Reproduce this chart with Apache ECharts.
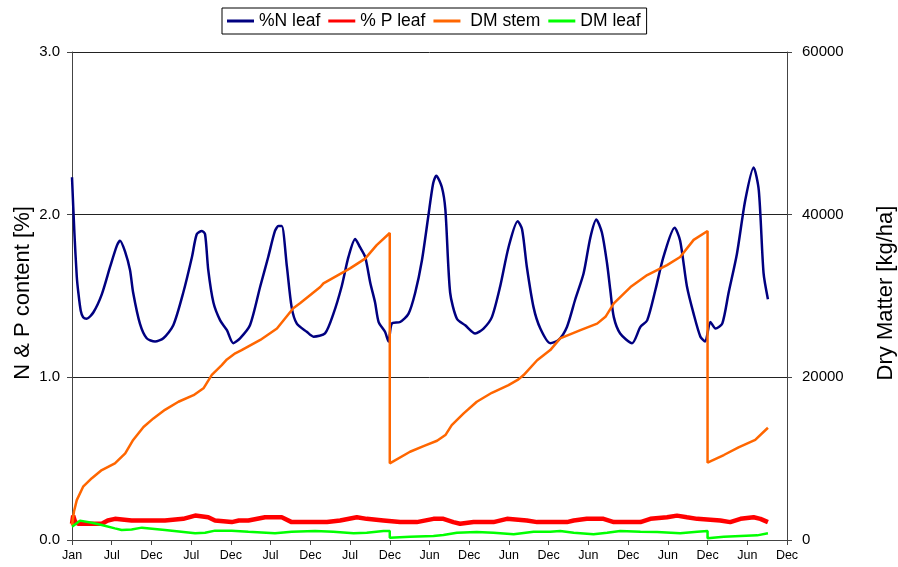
<!DOCTYPE html>
<html><head><meta charset="utf-8">
<script src="https://cdn.jsdelivr.net/npm/echarts@6/dist/echarts.min.js"></script>
<style>html,body{margin:0;padding:0;background:#fff}#c{width:898px;height:567px}</style>
</head><body><div id="c"></div>
<script>
// x positions are in tick-interval units (0 = Jan, 18 = last Dec)
const xTickLabels = ['Jan','Jul','Dec','Jul','Dec','Jul','Dec','Jul','Dec','Jun','Dec','Jun','Dec','Jun','Dec','Jun','Dec','Jun','Dec'];
const leftTicks = [0, 1, 2, 3];
const rightTicks = [0, 20000, 40000, 60000];

const nLeaf = [[0,2.23],[0.06,1.89],[0.12,1.62],[0.16,1.52],[0.22,1.41],[0.28,1.37],[0.37,1.36],[0.54,1.40],[0.75,1.51],[0.96,1.68],[1.13,1.81],[1.21,1.84],[1.34,1.77],[1.46,1.66],[1.54,1.52],[1.71,1.33],[1.88,1.24],[2.09,1.22],[2.30,1.24],[2.55,1.32],[2.80,1.52],[3.02,1.74],[3.14,1.88],[3.27,1.90],[3.35,1.88],[3.43,1.66],[3.56,1.46],[3.73,1.35],[3.90,1.29],[4.06,1.21],[4.23,1.24],[4.48,1.32],[4.74,1.56],[4.94,1.74],[5.11,1.90],[5.20,1.93],[5.28,1.93],[5.41,1.68],[5.53,1.43],[5.66,1.33],[5.91,1.28],[6.08,1.25],[6.37,1.27],[6.58,1.39],[6.79,1.56],[6.96,1.74],[7.13,1.85],[7.25,1.80],[7.38,1.74],[7.51,1.58],[7.63,1.46],[7.72,1.34],[7.88,1.28],[7.97,1.22],[8.05,1.33],[8.26,1.34],[8.47,1.39],[8.64,1.52],[8.81,1.72],[8.97,1.99],[9.09,2.19],[9.17,2.24],[9.31,2.17],[9.40,2.03],[9.52,1.52],[9.69,1.36],[9.90,1.32],[10.15,1.27],[10.36,1.30],[10.57,1.37],[10.78,1.56],[10.99,1.80],[11.22,1.96],[11.33,1.91],[11.45,1.68],[11.62,1.43],[11.79,1.30],[12.04,1.21],[12.25,1.23],[12.46,1.31],[12.67,1.48],[12.88,1.64],[13.05,1.86],[13.20,1.97],[13.34,1.89],[13.47,1.70],[13.55,1.54],[13.64,1.37],[13.80,1.27],[14.10,1.21],[14.31,1.31],[14.48,1.35],[14.69,1.54],[14.89,1.74],[15.17,1.92],[15.31,1.84],[15.48,1.56],[15.65,1.39],[15.82,1.25],[15.94,1.22],[16.07,1.34],[16.20,1.30],[16.37,1.33],[16.53,1.52],[16.74,1.76],[16.95,2.09],[17.16,2.29],[17.29,2.15],[17.41,1.64],[17.52,1.48]];

const pLeaf = [[0,0.10],[0.03,0.15],[0.08,0.11],[0.16,0.10],[0.75,0.10],[0.9,0.12],[1.08,0.13],[1.5,0.12],[2.34,0.12],[2.8,0.13],[3.10,0.15],[3.43,0.14],[3.60,0.12],[4.02,0.11],[4.2,0.12],[4.44,0.12],[4.86,0.14],[5.28,0.14],[5.53,0.11],[6.12,0.11],[6.42,0.11],[6.75,0.12],[7.17,0.14],[7.42,0.13],[7.84,0.12],[8.26,0.11],[8.68,0.11],[9.10,0.13],[9.35,0.13],[9.60,0.11],[9.77,0.10],[10.11,0.11],[10.61,0.11],[10.95,0.13],[11.45,0.12],[11.71,0.11],[12.04,0.11],[12.46,0.11],[12.63,0.12],[12.96,0.13],[13.38,0.13],[13.64,0.11],[14.31,0.11],[14.56,0.13],[14.98,0.14],[15.23,0.15],[15.48,0.14],[15.74,0.13],[16.07,0.125],[16.32,0.12],[16.57,0.11],[16.83,0.13],[17.16,0.14],[17.33,0.13],[17.52,0.11]];

const dmStem = [[0,1800],[0.05,3500],[0.12,4900],[0.28,6550],[0.50,7600],[0.75,8600],[1.08,9430],[1.34,10650],[1.54,12300],[1.80,13900],[2.05,14950],[2.34,16000],[2.68,17000],[3.06,17800],[3.31,18650],[3.52,20300],[3.77,21500],[3.90,22200],[4.11,22950],[4.27,23350],[4.74,24600],[5.16,26000],[5.57,28500],[5.74,29100],[6.25,31100],[6.33,31550],[7.00,33400],[7.38,34600],[7.67,36250],[8.0,37750],[8.0,9430],[8.51,10850],[8.85,11550],[9.19,12200],[9.40,12900],[9.56,14130],[9.86,15570],[10.19,17000],[10.57,18100],[10.99,19050],[11.24,19750],[11.37,20280],[11.71,22100],[12.04,23350],[12.29,24790],[12.80,25800],[13.22,26600],[13.43,27440],[13.64,29100],[14.06,31100],[14.48,32570],[14.98,33800],[15.31,34800],[15.65,36900],[16.0,38000],[16.0,9500],[16.41,10450],[16.78,11400],[17.20,12300],[17.52,13800]];

const dmLeaf = [[0,1640],[0.20,2380],[0.50,2130],[0.75,1840],[1.08,1430],[1.25,1230],[1.50,1300],[1.76,1520],[2.34,1230],[3.10,820],[3.35,880],[3.60,1150],[4.02,1150],[4.44,1020],[5.11,820],[5.53,1020],[6.12,1110],[6.58,1020],[7.09,820],[7.42,900],[7.84,1110],[8.0,1110],[8.0,290],[8.51,410],[9.10,490],[9.35,610],[9.69,900],[10.19,980],[10.61,900],[11.12,700],[11.62,1020],[12.04,1020],[12.29,1110],[12.63,900],[13.13,700],[13.47,900],[13.80,1110],[14.31,1020],[14.73,980],[15.31,820],[15.74,1020],[16.0,1110],[16.0,205],[16.41,410],[16.83,490],[17.25,570],[17.52,820]];

const FONT = "'Liberation Sans', Arial, sans-serif";
const chart = echarts.init(document.getElementById('c'), null, {renderer: 'canvas'});
const axisLineStyle = {color: '#444', width: 1};
chart.setOption({
  animation: false,
  backgroundColor: '#fff',
  textStyle: {fontFamily: FONT, color: '#000'},
  grid: {left: 72, right: 111, top: 52, bottom: 27, containLabel: false, outerBoundsMode: 'none'},
  legend: {
    left: 222, top: 8, orient: 'horizontal',
    icon: 'rect', itemWidth: 27, itemHeight: 3, itemGap: 8,
    padding: [4, 6, 4, 5],
    borderColor: '#000', borderWidth: 1, backgroundColor: '#fff',
    textStyle: {fontFamily: FONT, fontSize: 17.5, color: '#000'},
    data: ['%N leaf', '% P leaf', ' DM stem', 'DM leaf']
  },
  xAxis: {
    type: 'value', min: 0, max: xTickLabels.length - 1, interval: 1,
    axisLine: {show: true, lineStyle: axisLineStyle},
    axisTick: {show: true, inside: false, length: 5, lineStyle: axisLineStyle},
    axisLabel: {fontSize: 12.5, color: '#000', margin: 9, fontFamily: FONT,
      formatter: v => xTickLabels[Math.round(v)] || ''},
    splitLine: {show: false}
  },
  yAxis: [{
    type: 'value', min: leftTicks[0], max: leftTicks[leftTicks.length - 1], interval: 1,
    position: 'left',
    name: 'N & P content [%]', nameLocation: 'middle', nameGap: 38, nameMoveOverlap: false,
    nameTextStyle: {fontSize: 22, color: '#000', fontFamily: FONT, padding: [0, 0, 0, 6]},
    axisLine: {show: true, lineStyle: axisLineStyle},
    axisTick: {show: true, inside: false, length: 5, lineStyle: axisLineStyle},
    axisLabel: {fontSize: 15, color: '#000', margin: 12, fontFamily: FONT, formatter: v => v.toFixed(1)},
    splitLine: {show: true, lineStyle: {color: '#222', width: 1}}
  }, {
    type: 'value', min: rightTicks[0], max: rightTicks[rightTicks.length - 1], interval: 20000,
    position: 'right',
    name: 'Dry Matter [kg/ha]', nameLocation: 'middle', nameGap: 88, nameMoveOverlap: false,
    nameTextStyle: {fontSize: 22, color: '#000', fontFamily: FONT, padding: [0, 0, 0, 6]},
    axisLine: {show: true, lineStyle: axisLineStyle},
    axisTick: {show: true, inside: false, length: 5, lineStyle: axisLineStyle},
    axisLabel: {fontSize: 15, color: '#000', margin: 15, fontFamily: FONT, formatter: v => String(v)},
    splitLine: {show: false}
  }],
  series: [
    {name: '%N leaf', type: 'line', yAxisIndex: 0, data: nLeaf, symbol: 'none', showSymbol: false, smooth: 0.25,
      lineStyle: {color: '#000080', width: 2.5}, itemStyle: {color: '#000080'}},
    {name: '% P leaf', type: 'line', yAxisIndex: 0, data: pLeaf, symbol: 'none', showSymbol: false,
      lineStyle: {color: '#ff0000', width: 4.5}, itemStyle: {color: '#ff0000'}},
    {name: ' DM stem', type: 'line', yAxisIndex: 1, data: dmStem, symbol: 'none', showSymbol: false,
      lineStyle: {color: '#ff6600', width: 2.5}, itemStyle: {color: '#ff6600'}},
    {name: 'DM leaf', type: 'line', yAxisIndex: 1, data: dmLeaf, symbol: 'none', showSymbol: false,
      lineStyle: {color: '#00ff00', width: 2.5}, itemStyle: {color: '#00ff00'}}
  ]
});
</script></body></html>
